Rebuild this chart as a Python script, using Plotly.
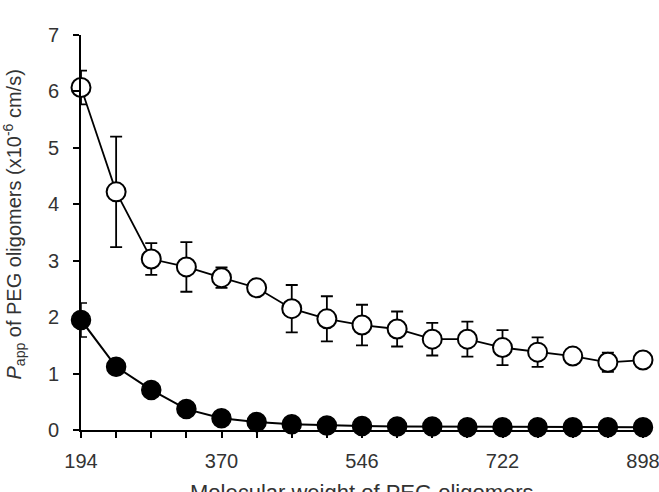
import plotly.graph_objects as go

mw = [194, 238, 282, 326, 370, 414, 458, 502, 546, 590, 634, 678, 722, 766, 810, 854, 898]
open_vals = [6.07, 4.22, 3.03, 2.89, 2.70, 2.52, 2.15, 1.97, 1.86, 1.79, 1.61, 1.61, 1.46, 1.38, 1.31, 1.20, 1.24]
open_err = [0.30, 0.98, 0.28, 0.44, 0.18, 0.10, 0.42, 0.40, 0.36, 0.31, 0.29, 0.31, 0.31, 0.26, 0.08, 0.17, 0.08]
filled_vals = [1.95, 1.12, 0.71, 0.37, 0.21, 0.14, 0.10, 0.08, 0.07, 0.06, 0.06, 0.05, 0.05, 0.05, 0.05, 0.05, 0.05]
filled_err = [0.30, 0.05, 0.04, 0.03, 0.02, 0.02, 0.01, 0.01, 0.01, 0.01, 0.01, 0.01, 0.01, 0.01, 0.01, 0.01, 0.01]
x_labels = ["194", "", "", "", "370", "", "", "", "546", "", "", "", "722", "", "", "", "898"]
y_ticks = [0, 1, 2, 3, 4, 5, 6, 7]
x_title = "Molecular weight of PEG oligomers"
y_title = "<i>P</i><sub>app</sub> of PEG oligomers (x10<sup>-6</sup> cm/s)"

fig = go.Figure()
fig.add_trace(go.Scatter(
    x=mw, y=filled_vals, mode="lines+markers",
    line=dict(color="black", width=2),
    marker=dict(size=19, color="black", line=dict(color="black", width=1.5)),
    error_y=dict(type="data", array=filled_err, color="black", thickness=1.5, width=6),
    cliponaxis=False, showlegend=False))
fig.add_trace(go.Scatter(
    x=mw, y=open_vals, mode="lines+markers",
    line=dict(color="black", width=1.8),
    marker=dict(size=19, color="white", line=dict(color="black", width=2)),
    error_y=dict(type="data", array=open_err, color="black", thickness=1.8, width=6),
    cliponaxis=False, showlegend=False))

fig.update_layout(
    width=659, height=492,
    margin=dict(l=81, r=16, t=35, b=62),
    paper_bgcolor="white", plot_bgcolor="white",
    font=dict(family="Liberation Sans, Arial, sans-serif", size=20, color="#333"),
    xaxis=dict(range=[194, 898], tickvals=mw, ticktext=x_labels, automargin=False,
               ticklabeloverflow="allow",
               ticks="outside", ticklen=6, tickwidth=1.5, tickcolor="black",
               ticklabelstandoff=6,
               showline=True, linecolor="black", linewidth=2, showgrid=False, zeroline=False),
    yaxis=dict(range=[0, 7], tickvals=y_ticks, automargin=False,
               ticklabeloverflow="allow",
               ticks="outside", ticklen=6, tickwidth=1.5, tickcolor="black",
               ticklabelstandoff=10,
               showline=True, linecolor="black", linewidth=2, showgrid=False, zeroline=False),
    annotations=[
        dict(text=x_title, xref="paper", yref="paper", x=0.5, y=0, xanchor="center",
             yanchor="top", yshift=-48, showarrow=False, font=dict(size=22, color="#333")),
        dict(text=y_title, xref="paper", yref="paper", x=0, y=0.5, xanchor="center",
             yanchor="middle", xshift=-67, yshift=8, textangle=-90, showarrow=False,
             font=dict(size=20, color="#333")),
    ],
)
fig.write_html("out.html")
